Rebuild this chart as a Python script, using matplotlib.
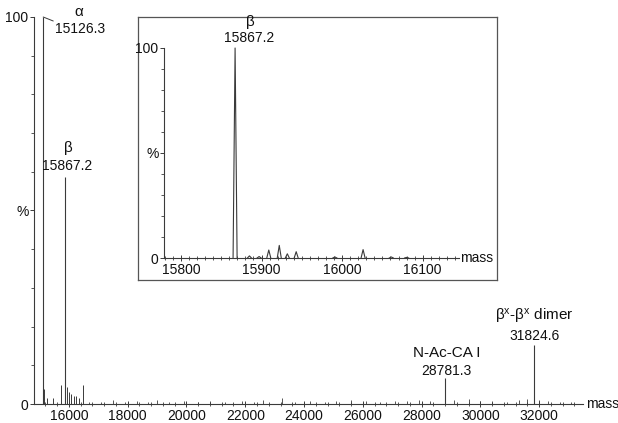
import matplotlib.pyplot as plt
from matplotlib.ticker import MultipleLocator, FixedLocator, FixedFormatter

plt.rcParams['font.family'] = ['Liberation Sans', 'DejaVu Sans']
plt.rcParams['mathtext.fontset'] = 'custom'
plt.rcParams['mathtext.rm'] = 'Liberation Sans'
plt.rcParams['mathtext.it'] = 'Liberation Sans:italic'

# labelled peaks of the full spectrum
peak_mass = [15126.3, 15867.2, 28781.3, 31824.6]
peak_int = [100.0, 58.7, 6.8, 15.3]
peak_name = ['α', 'β', 'N-Ac-CA I', r'β$^{\mathrm{x}}$-β$^{\mathrm{x}}$ dimer']
peak_text = ['15126.3', '15867.2', '28781.3', '31824.6']

# small peaks around the monomers
minor_mass = [15153, 15255, 15459, 15731, 15935, 16003, 16071, 16173, 16241, 16344, 16480]
minor_int = [4.0, 1.5, 1.5, 5.0, 4.5, 3.0, 2.5, 2.0, 2.0, 1.5, 5.0]

# baseline noise along the full range
noise_mass = [16700, 17100, 17500, 17900, 18300, 18700, 19000, 19400, 19900, 20400,
              20800, 21300, 21900, 22300, 22600, 23260, 23700, 24200, 24700, 25100,
              25600, 26100, 26600, 27100, 27500, 27900, 28300, 29100, 29600, 30000,
              30400, 30900, 31300, 31600, 32000, 32300, 32700, 33100]
noise_int = [0.6, 0.5, 1.0, 0.5, 0.8, 0.6, 1.0, 0.5, 0.7, 0.5,
             0.8, 0.5, 0.7, 0.5, 1.0, 1.6, 0.6, 0.8, 0.5, 0.7,
             1.0, 0.8, 0.6, 0.8, 0.7, 1.0, 0.8, 1.0, 1.2, 0.7,
             0.8, 0.6, 1.0, 1.2, 1.0, 0.8, 0.6, 0.5]

# inset: zoom on the beta peak
inset_mass = [15867.2, 15885, 15897, 15909, 15922, 15932, 15943, 15991, 16026, 16061, 16080]
inset_int = [100.0, 1.0, 0.7, 3.8, 6.0, 2.0, 3.0, 0.5, 4.0, 0.5, 0.3]

main_ticks = list(range(16000, 32001, 2000))
inset_ticks = [15800, 15900, 16000, 16100]

ink = '#111111'
line = '#3a3a3a'

fig = plt.figure(figsize=(6.18, 4.23), dpi=100)
W, H = 618, 423


def frac(x0, y0, x1, y1):
    return [x0 / W, 1 - y1 / H, (x1 - x0) / W, (y1 - y0) / H]


def style_axes(ax, ticks, minor, xlim):
    ax.set_xlim(*xlim)
    ax.set_ylim(0, 100)
    for s in ['top', 'right']:
        ax.spines[s].set_visible(False)
    for s in ['left', 'bottom']:
        ax.spines[s].set_color(line)
        ax.spines[s].set_linewidth(0.8)
    ax.xaxis.set_major_locator(FixedLocator(ticks))
    ax.xaxis.set_major_formatter(FixedFormatter([str(t) for t in ticks]))
    ax.xaxis.set_minor_locator(MultipleLocator(minor))
    ax.yaxis.set_major_locator(FixedLocator([0, 50, 100]))
    ax.yaxis.set_major_formatter(FixedFormatter(['0', '%', '100']))
    ax.yaxis.set_minor_locator(MultipleLocator(10))
    ax.tick_params(axis='x', which='major', direction='inout', length=5, width=0.7,
                   color=line, labelsize=10, labelcolor=ink, pad=1)
    ax.tick_params(axis='x', which='minor', direction='inout', length=3, width=0.6, color=line)
    ax.tick_params(axis='y', which='major', direction='out', length=3, width=0.7,
                   color=line, labelsize=10, labelcolor=ink, pad=1)
    ax.tick_params(axis='y', which='minor', direction='out', length=2, width=0.6, color=line)
    ax.text(1.005, 0, 'mass', transform=ax.transAxes, fontsize=10, color=ink,
            ha='left', va='center')


# main spectrum
ax = fig.add_axes(frac(34, 17, 583, 404))
style_axes(ax, main_ticks, 400, (14812, 33492))
ax.vlines(peak_mass, 0, peak_int, color=line, lw=0.8, clip_on=False)
ax.vlines(minor_mass, 0, minor_int, color=line, lw=0.7)
ax.vlines(noise_mass, 0, noise_int, color=line, lw=0.6)

# label offsets in pixels from each peak top (number, name)
num_off = [(37, -12), (2, 11), (2, 7), (1, 9)]
name_off = [(36, 5), (3, 29), (2, 25), (0, 28)]
for m, h, name, txt, no, nm in zip(peak_mass, peak_int, peak_name, peak_text, num_off, name_off):
    ax.annotate(txt, (m, h), xytext=no, textcoords='offset pixels', ha='center',
                va='center', fontsize=10, color=ink, annotation_clip=False)
    ax.annotate(name, (m, h), xytext=nm, textcoords='offset pixels', ha='center',
                va='center', fontsize=11, color=ink, annotation_clip=False)
# leader from the alpha peak to its label
ax.annotate('', (peak_mass[0], peak_int[0]), xytext=(10, -4), textcoords='offset pixels',
            arrowprops=dict(arrowstyle='-', color=line, lw=0.7, shrinkA=0, shrinkB=0),
            annotation_clip=False)

# inset frame
frame = fig.add_axes(frac(138, 17, 497, 280))
frame.set_xticks([])
frame.set_yticks([])
frame.patch.set_alpha(0)
for s in frame.spines.values():
    s.set_color('#555555')
    s.set_linewidth(0.9)

# inset spectrum
ins = fig.add_axes(frac(164, 48, 459, 258))
ins.patch.set_alpha(0)
style_axes(ins, inset_ticks, 10, (15779, 16145))
half = 2.5
for m, h in zip(inset_mass, inset_int):
    ins.plot([m - half, m, m + half], [0, h, 0], color=line, lw=0.8, clip_on=False)
ins.annotate(peak_text[1], (inset_mass[0], 100), xytext=(14, 10), textcoords='offset pixels',
             ha='center', va='center', fontsize=10, color=ink, annotation_clip=False)
ins.annotate('β', (inset_mass[0], 100), xytext=(15, 26), textcoords='offset pixels',
             ha='center', va='center', fontsize=11, color=ink, annotation_clip=False)

fig.savefig('out.png', dpi=100)
